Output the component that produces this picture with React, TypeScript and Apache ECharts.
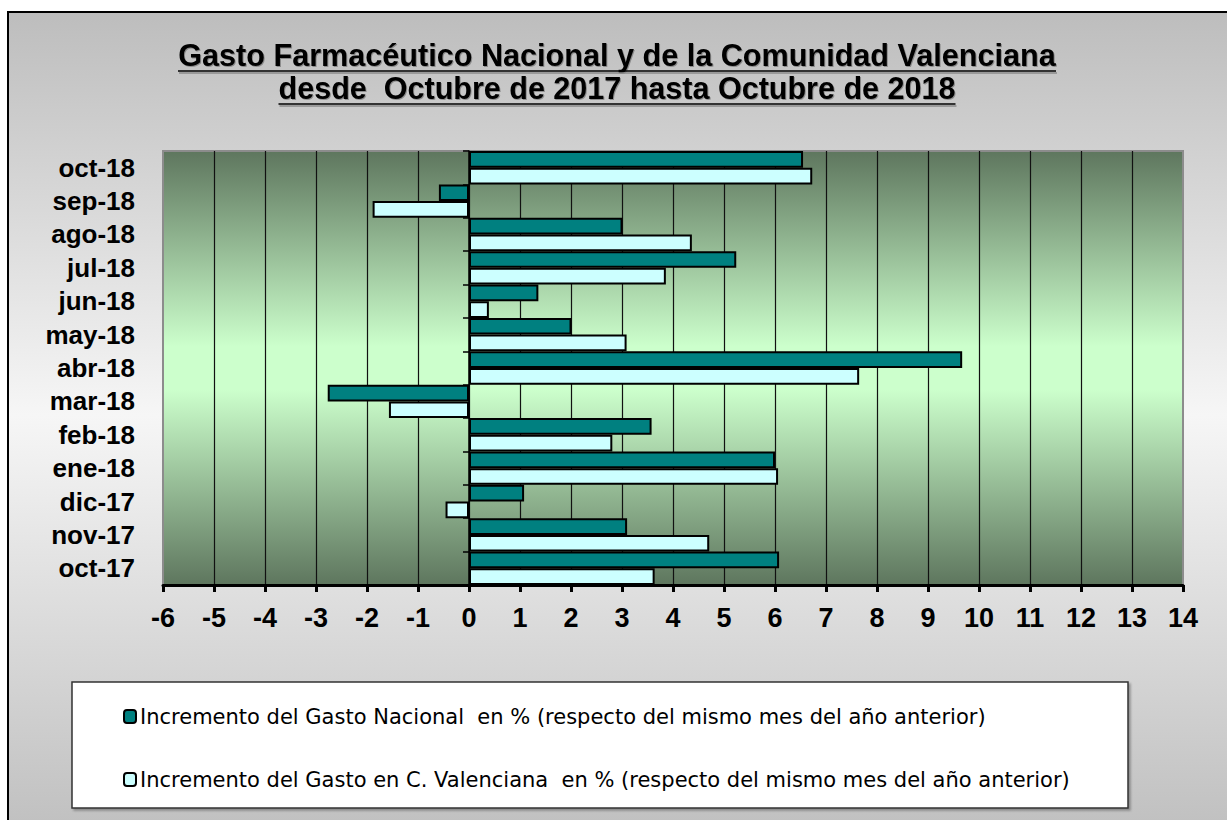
import React, { useEffect, useRef } from "react";
import * as echarts from "echarts";

const categories = ["oct-17", "nov-17", "dic-17", "ene-18", "feb-18", "mar-18", "abr-18", "may-18", "jun-18", "jul-18", "ago-18", "sep-18", "oct-18"];
const nacional = [6.08, 3.1, 1.08, 6.0, 3.58, -2.77, 9.67, 2.01, 1.36, 5.24, 3.01, -0.59, 6.55];
const valenciana = [3.64, 4.71, -0.46, 6.06, 2.81, -1.57, 7.65, 3.09, 0.39, 3.86, 4.37, -1.89, 6.73];
const seriesNames = [
  "Incremento del Gasto Nacional  en % (respecto del mismo mes del año anterior)",
  "Incremento del Gasto en C. Valenciana  en % (respecto del mismo mes del año anterior)",
];
const titleLines = [
  "Gasto Farmacéutico Nacional y de la Comunidad Valenciana",
  "desde  Octubre de 2017 hasta Octubre de 2018",
];
const xMin = -6;
const xMax = 14;

function measure(text: string, font: string): number {
  const c = document.createElement("canvas").getContext("2d");
  if (!c) return text.length * 15;
  c.font = font;
  return c.measureText(text).width;
}

export default function App() {
  const ref = useRef<HTMLDivElement>(null);
  useEffect(() => {
    if (!ref.current) return;
    const chart = echarts.init(ref.current, undefined, { renderer: "svg" });
    const titleFont = "bold 32px 'Liberation Sans'";
    const targets = [878, 677];
    const titleY = [55, 88];
    const ulY = [71, 104];
    const titleGraphics: any[] = [];
    titleLines.forEach((t, i) => {
      const w = measure(t, titleFont);
      const sx = targets[i] / w;
      titleGraphics.push({
        type: "text",
        x: 617,
        y: titleY[i],
        scaleX: sx,
        z: 10,
        style: {
          text: t,
          font: titleFont,
          fill: "#000",
          textAlign: "center",
          textVerticalAlign: "middle",
          textShadowColor: "rgba(0,0,0,0.3)",
          textShadowOffsetX: 1,
          textShadowOffsetY: 1,
          textShadowBlur: 1,
        },
      });
      const x0 = 617 - targets[i] / 2;
      const x1 = 617 + targets[i] / 2;
      titleGraphics.push({
        type: "line",
        z: 10,
        shape: { x1: x0 + 1, y1: ulY[i] + 2, x2: x1 + 1, y2: ulY[i] + 2 },
        style: { stroke: "#8a8a8a", lineWidth: 1.5 },
      });
      titleGraphics.push({
        type: "line",
        z: 10,
        shape: { x1: x0, y1: ulY[i], x2: x1, y2: ulY[i] },
        style: { stroke: "#000", lineWidth: 1.5 },
      });
    });

    const nTicks = xMax - xMin + 1;
    const splitColors = Array.from({ length: nTicks }, (_, i) => (i === 0 || i === nTicks - 1 ? "rgba(0,0,0,0)" : "#111"));

    const option: any = {
      animation: false,
      graphic: [
        {
          type: "rect",
          z: -10,
          silent: true,
          shape: { x: 8, y: 12, width: 1240, height: 840 },
          style: {
            fill: new echarts.graphic.LinearGradient(0, 0, 0, 1, [
              { offset: 0, color: "#bdbdbd" },
              { offset: 0.48, color: "#f6f6f6" },
              { offset: 1, color: "#bdbdbd" },
            ]),
            stroke: "#000",
            lineWidth: 2,
          },
        },
        {
          type: "rect",
          z: -5,
          silent: true,
          shape: { x: 72, y: 682, width: 1056, height: 126 },
          style: { fill: "#fff", stroke: "#333", lineWidth: 1.5, shadowColor: "rgba(0,0,0,0.3)", shadowOffsetX: 2, shadowOffsetY: 2, shadowBlur: 2 },
        },
        ...titleGraphics,
      ],
      grid: {
        left: 163,
        right: 44,
        top: 151,
        bottom: 235,
        show: true,
        borderColor: "#8c8c8c",
        borderWidth: 2,
        backgroundColor: new echarts.graphic.LinearGradient(0, 0, 0, 1, [
          { offset: 0, color: "#5e765e" },
          { offset: 0.45, color: "#ccffcc" },
          { offset: 0.55, color: "#ccffcc" },
          { offset: 1, color: "#5e765e" },
        ]),
      },
      legend: {
        orient: "vertical",
        left: 118,
        top: 701,
        itemGap: 42,
        itemWidth: 12,
        itemHeight: 13,
        z: 20,
        data: seriesNames,
        textStyle: { fontFamily: "DejaVu Sans", fontSize: 21, color: "#000", padding: [0, 0, 0, -1] },
      },
      xAxis: {
        type: "value",
        min: xMin,
        max: xMax,
        interval: 1,
        axisLine: { show: true, onZero: false, lineStyle: { color: "#000", width: 3 } },
        axisTick: { show: true, length: 7, lineStyle: { color: "#000", width: 3 } },
        axisLabel: { fontFamily: "Liberation Sans", fontWeight: "bold", fontSize: 27, color: "#000", margin: 19 },
        splitLine: { show: true, lineStyle: { color: splitColors, width: 1.2 } },
      },
      yAxis: [
        {
          type: "category",
          data: categories,
          position: "left",
          axisLine: { show: false, onZero: false },
          axisTick: { show: false },
          axisLabel: { interval: 0, fontFamily: "Liberation Sans", fontWeight: "bold", fontSize: 26, color: "#000", margin: 28 },
        },
        {
          type: "category",
          data: categories,
          position: "left",
          axisLine: { show: true, onZero: true, lineStyle: { color: "#000", width: 1.5 } },
          axisTick: { show: true, length: 6, lineStyle: { color: "#000", width: 1.5 } },
          axisLabel: { show: false },
        },
      ],
      series: [
        {
          name: seriesNames[0],
          type: "bar",
          data: nacional,
          barGap: "0%",
          barCategoryGap: "0%",
          itemStyle: { color: "#008080", borderColor: "#000", borderWidth: 2 },
          z: 3,
        },
        {
          name: seriesNames[1],
          type: "bar",
          data: valenciana,
          barGap: "0%",
          barCategoryGap: "0%",
          itemStyle: { color: "#ccffff", borderColor: "#000", borderWidth: 2 },
          z: 3,
        },
      ],
    };
    chart.setOption(option);
    return () => chart.dispose();
  }, []);
  return <div ref={ref} style={{ position: "absolute", left: 0, top: 0, width: 1227, height: 820 }} />;
}
